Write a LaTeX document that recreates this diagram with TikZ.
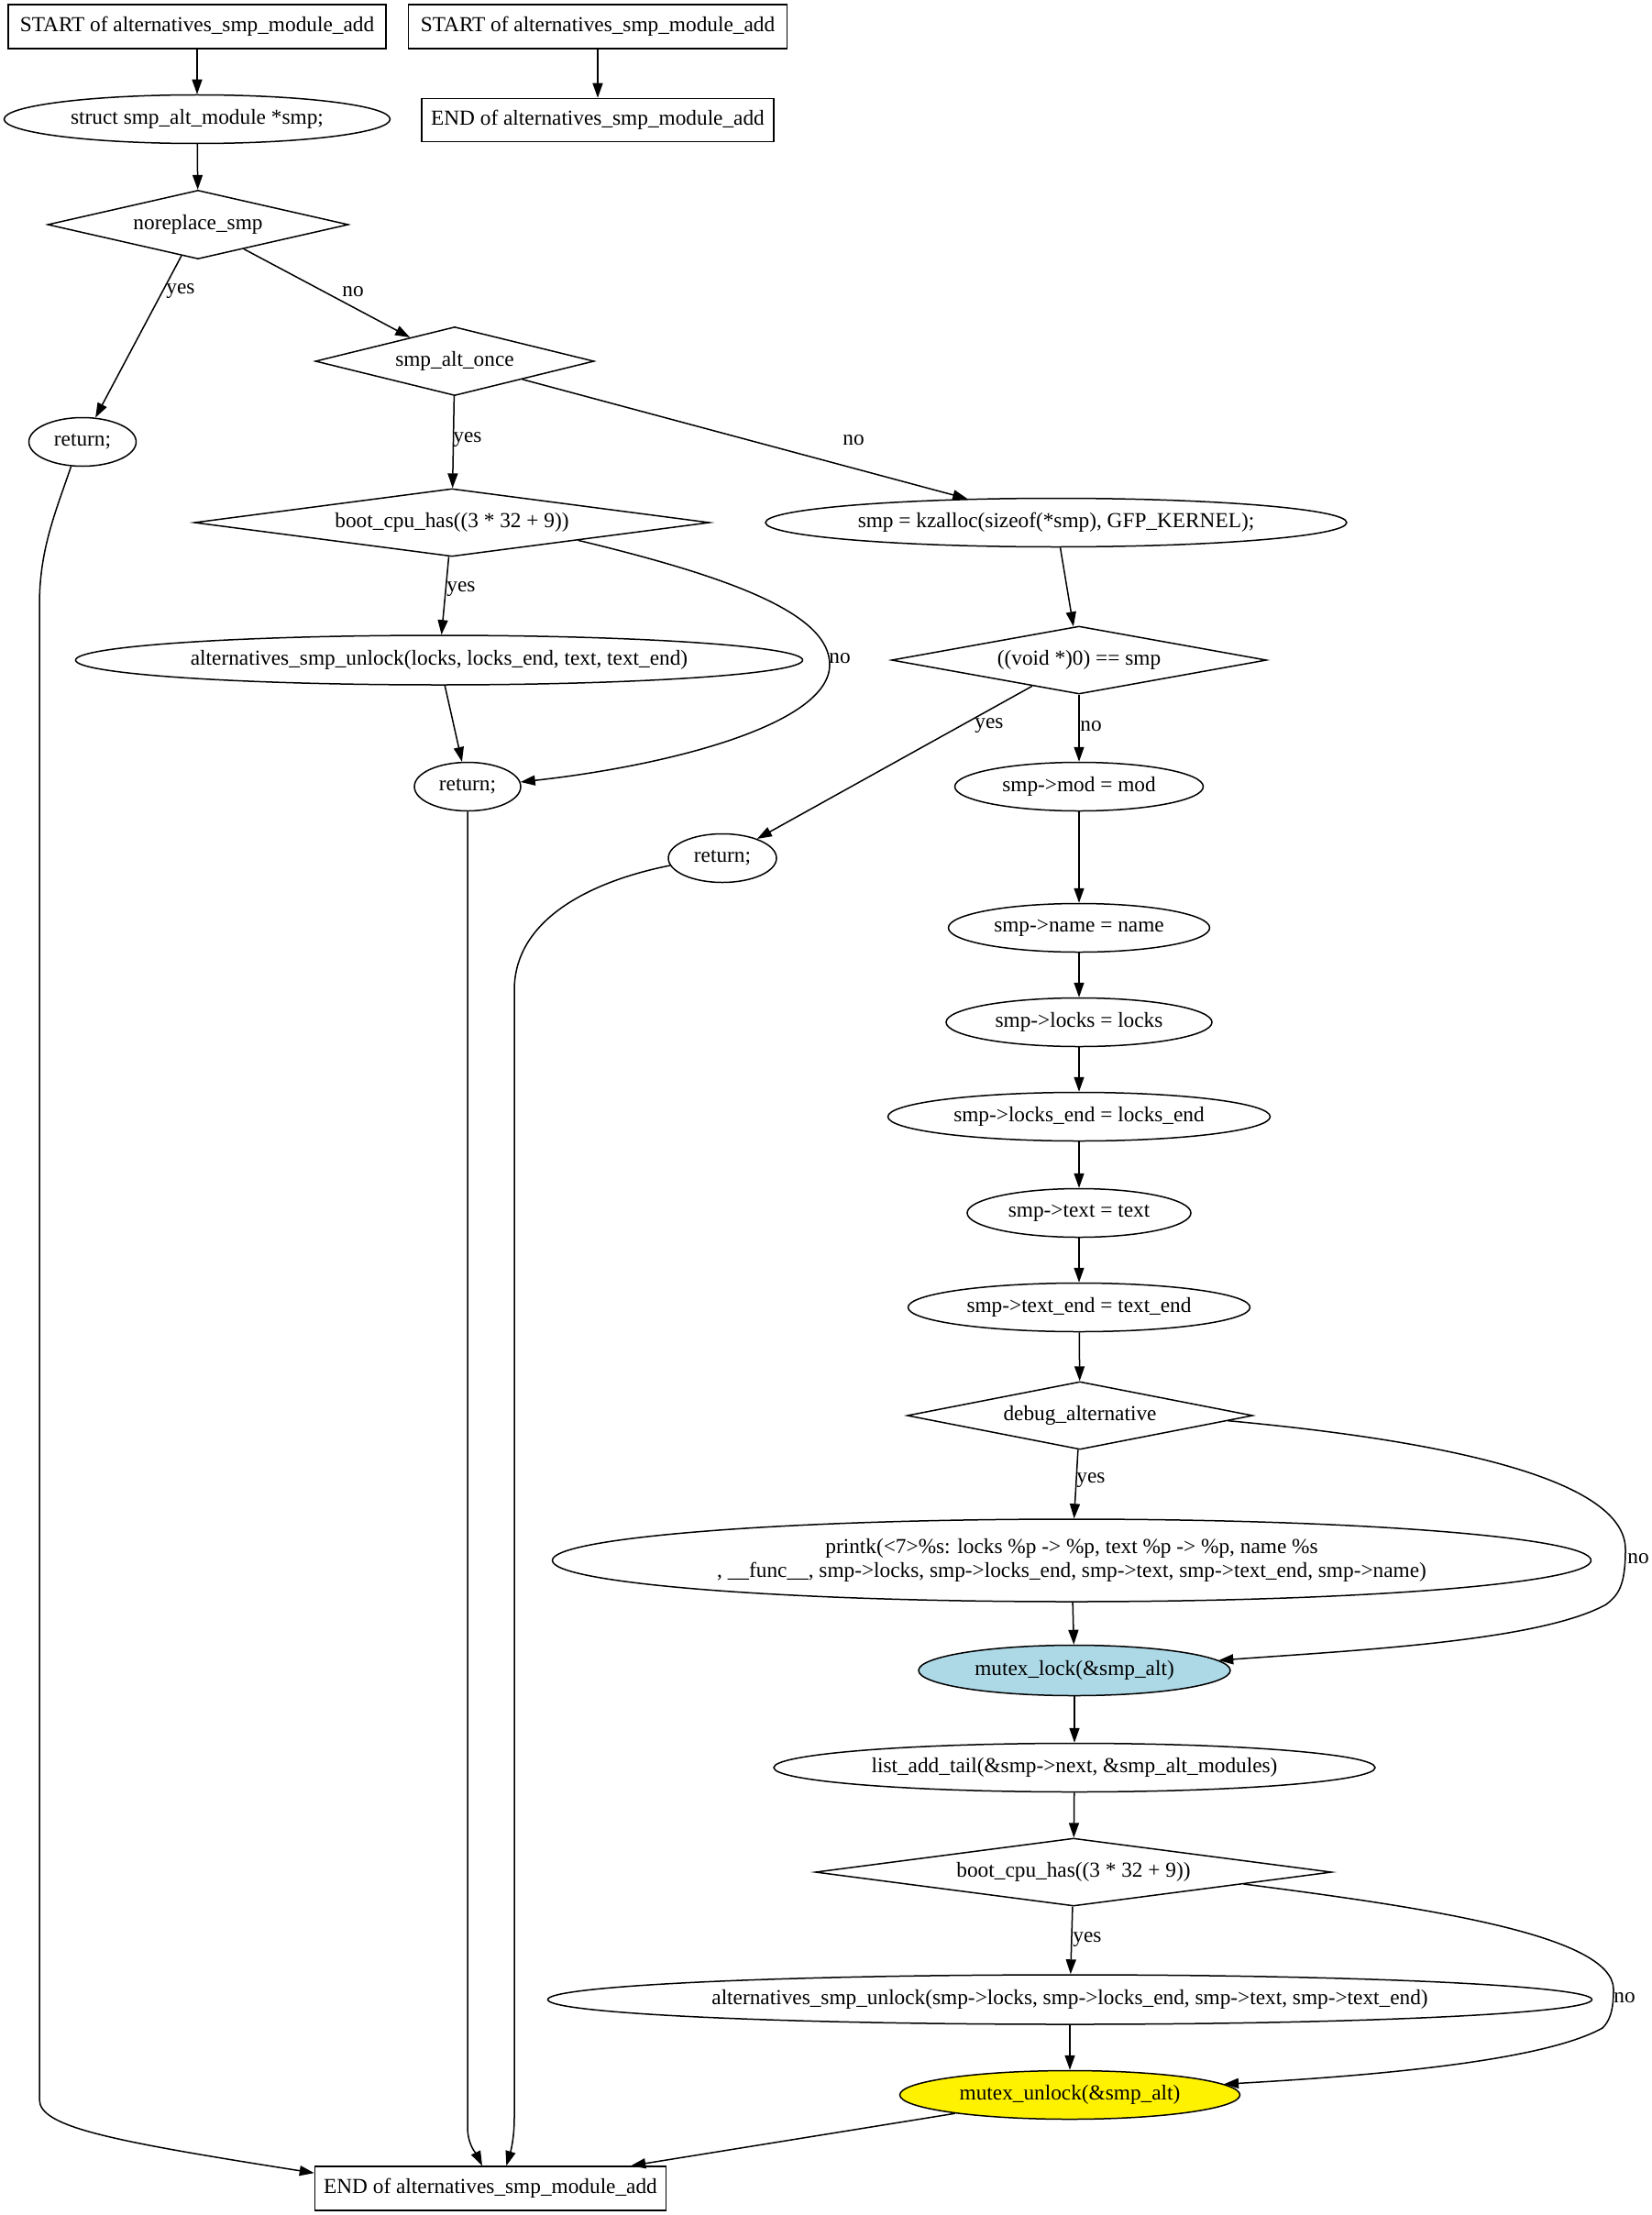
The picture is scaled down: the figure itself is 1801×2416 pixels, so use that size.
\documentclass[tikz,border=0pt]{standalone}
\usepackage{fontspec}
\setmainfont{Liberation Serif}
\usetikzlibrary{shapes.geometric,arrows.meta}
\newcommand\fs{\fontsize{23.3}{26}\selectfont}
\newcommand\zw[1]{\makebox[0pt]{#1}}
\definecolor{lblue}{HTML}{ADD8E6}
\begin{document}
\begin{tikzpicture}[x=1pt,y=-1pt,
  ell/.style={draw, ellipse, line width=1.5pt, inner sep=0pt, minimum height=53pt, font=\fs},
  dia/.style={draw, diamond, line width=1.5pt, inner sep=0pt, minimum height=74pt, font=\fs},
  boxn/.style={draw, rectangle, line width=1.5pt, inner sep=0pt, minimum height=48pt, font=\fs},
  arr/.style={-{Triangle[length=16pt,width=11pt]}, line width=1.5pt},
  lbl/.style={inner sep=0pt, font=\fs}]
\useasboundingbox (0,0) rectangle (1801,2416);
\fill[white] (0,0) rectangle (1801,2416);
% nodes
\node[boxn, minimum width=412pt] (start1) at (215,29) {START of alternatives\_smp\_module\_add};
\node[boxn, minimum width=413pt] (start2) at (652,29) {START of alternatives\_smp\_module\_add};
\node[boxn, minimum width=384pt, minimum height=47pt] (end2) at (652,131) {END of alternatives\_smp\_module\_add};
\node[ell, minimum width=421pt] (struct) at (215,130) {\zw{struct smp\_alt\_module *smp;}};
\node[dia, minimum width=328pt, minimum height=75pt] (norep) at (216,245) {\zw{noreplace\_smp}};
\node[ell, minimum width=117pt] (ret1) at (90,482) {\zw{return;}};
\node[dia, minimum width=304pt, minimum height=75pt] (once) at (496,394) {\zw{smp\_alt\_once}};
\node[dia, minimum width=562pt] (boot1) at (493,570) {\zw{boot\_cpu\_has((3 * 32 + 9))}};
\node[ell, minimum width=634pt] (kz) at (1152,570) {\zw{smp = kzalloc(sizeof(*smp), GFP\_KERNEL);}};
\node[ell, minimum width=793pt, minimum height=54pt] (unl1) at (479,720) {\zw{alternatives\_smp\_unlock(locks, locks\_end, text, text\_end)}};
\node[dia, minimum width=409pt] (voidn) at (1177,720) {\zw{((void *)0) == smp}};
\node[ell, minimum width=116pt] (ret2) at (510,858) {\zw{return;}};
\node[ell, minimum width=271pt] (modn) at (1177,858) {\zw{smp->mod = mod}};
\node[ell, minimum width=118pt] (ret3) at (788,936) {\zw{return;}};
\node[ell, minimum width=285pt] (nname) at (1177,1012) {\zw{smp->name = name}};
\node[ell, minimum width=290pt] (locksn) at (1177,1115) {\zw{smp->locks = locks}};
\node[ell, minimum width=417pt] (lend) at (1177,1218) {\zw{smp->locks\_end = locks\_end}};
\node[ell, minimum width=244pt] (txt) at (1177,1323) {\zw{smp->text = text}};
\node[ell, minimum width=373pt] (tend) at (1177,1426) {\zw{smp->text\_end = text\_end}};
\node[dia, minimum width=377pt] (debug) at (1178,1544) {\zw{debug\_alternative}};
\node[ell, minimum width=1133pt, minimum height=90pt] (printk) at (1169,1702) {\zw{\begin{tabular}{@{}c@{}}printk(<7>\%s: locks \%p -> \%p, text \%p -> \%p, name \%s\\, \_\_func\_\_, smp->locks, smp->locks\_end, smp->text, smp->text\_end, smp->name)\end{tabular}}};
\node[ell, fill=lblue, minimum width=340pt, minimum height=55pt] (mlock) at (1172,1822) {\zw{mutex\_lock(\&smp\_alt)}};
\node[ell, minimum width=656pt] (listn) at (1172,1928) {\zw{list\_add\_tail(\&smp->next, \&smp\_alt\_modules)}};
\node[dia, minimum width=563pt] (boot2) at (1171,2042) {\zw{boot\_cpu\_has((3 * 32 + 9))}};
\node[ell, minimum width=1139pt, minimum height=54pt] (unl2) at (1167,2181) {\zw{alternatives\_smp\_unlock(smp->locks, smp->locks\_end, smp->text, smp->text\_end)}};
\node[ell, fill=yellow, minimum width=371pt] (munl) at (1167,2285) {\zw{mutex\_unlock(\&smp\_alt)}};
\node[boxn, minimum width=383pt] (end1) at (535,2387) {END of alternatives\_smp\_module\_add};
% edges
\draw[arr] (start1) -- (struct);
\draw[arr] (start2) -- (end2);
\draw[arr] (struct) -- (norep);
\draw[arr] (norep) -- (ret1);
\draw[arr] (norep) -- (once);
\draw[arr] (once) -- (boot1);
\draw[arr] (once) -- (kz);
\draw[arr] (boot1) -- (unl1);
\draw[arr] (boot1.-8) .. controls (800,630) and (905,670) .. (905,725) .. controls (905,790) and (730,835) .. (ret2.5);
\draw[arr] (unl1) -- (ret2);
\draw[arr] (kz) -- (voidn);
\draw[arr] (voidn) -- (ret3);
\draw[arr] (voidn) -- (modn);
\draw[arr] (ret1.-115) .. controls (60,560) and (43,600) .. (43,660) -- (43,2290) .. controls (43,2320) and (120,2335) .. (end1.175);
\draw[arr] (ret2.south) -- (510,2320) .. controls (510,2340) and (520,2350) .. (end1.110);
\draw[arr] (ret3.188) .. controls (650,960) and (561,1000) .. (561,1080) -- (561,2310) .. controls (561,2335) and (556,2350) .. (end1.55);
\draw[arr] (modn) -- (nname);
\draw[arr] (nname) -- (locksn);
\draw[arr] (locksn) -- (lend);
\draw[arr] (lend) -- (txt);
\draw[arr] (txt) -- (tend);
\draw[arr] (tend) -- (debug);
\draw[arr] (debug) -- (printk);
\draw[arr] (debug.-2) .. controls (1560,1570) and (1773,1610) .. (1773,1690) .. controls (1773,1730) and (1765,1740) .. (1752,1750) .. controls (1680,1790) and (1480,1800) .. (mlock.4);
\draw[arr] (printk) -- (mlock);
\draw[arr] (mlock) -- (listn);
\draw[arr] (listn) -- (boot2);
\draw[arr] (boot2) -- (unl2);
\draw[arr] (boot2.-4) .. controls (1550,2080) and (1760,2110) .. (1760,2170) .. controls (1760,2195) and (1755,2205) .. (1748,2212) .. controls (1680,2250) and (1480,2265) .. (munl.4);
\draw[arr] (unl2) -- (munl);
\draw[arr] (munl) -- (end1);
% labels
\node[lbl] (la) at (197,318) {yes};
\node[lbl] (lb) at (385,318) {no};
\node[lbl] (lc) at (510,480) {yes};
\node[lbl] (ld) at (931,480) {no};
\node[lbl] (le) at (503,643) {yes};
\node[lbl] (lf) at (916,718) {no};
\node[lbl] (lg) at (1079,792) {yes};
\node[lbl] (lh) at (1190,792) {no};
\node[lbl] (li) at (1190,1615) {yes};
\node[lbl] (lj) at (1787,1700) {no};
\node[lbl] (lk) at (1186,2115) {yes};
\node[lbl] (ll) at (1772,2179) {no};
\end{tikzpicture}
\end{document}
